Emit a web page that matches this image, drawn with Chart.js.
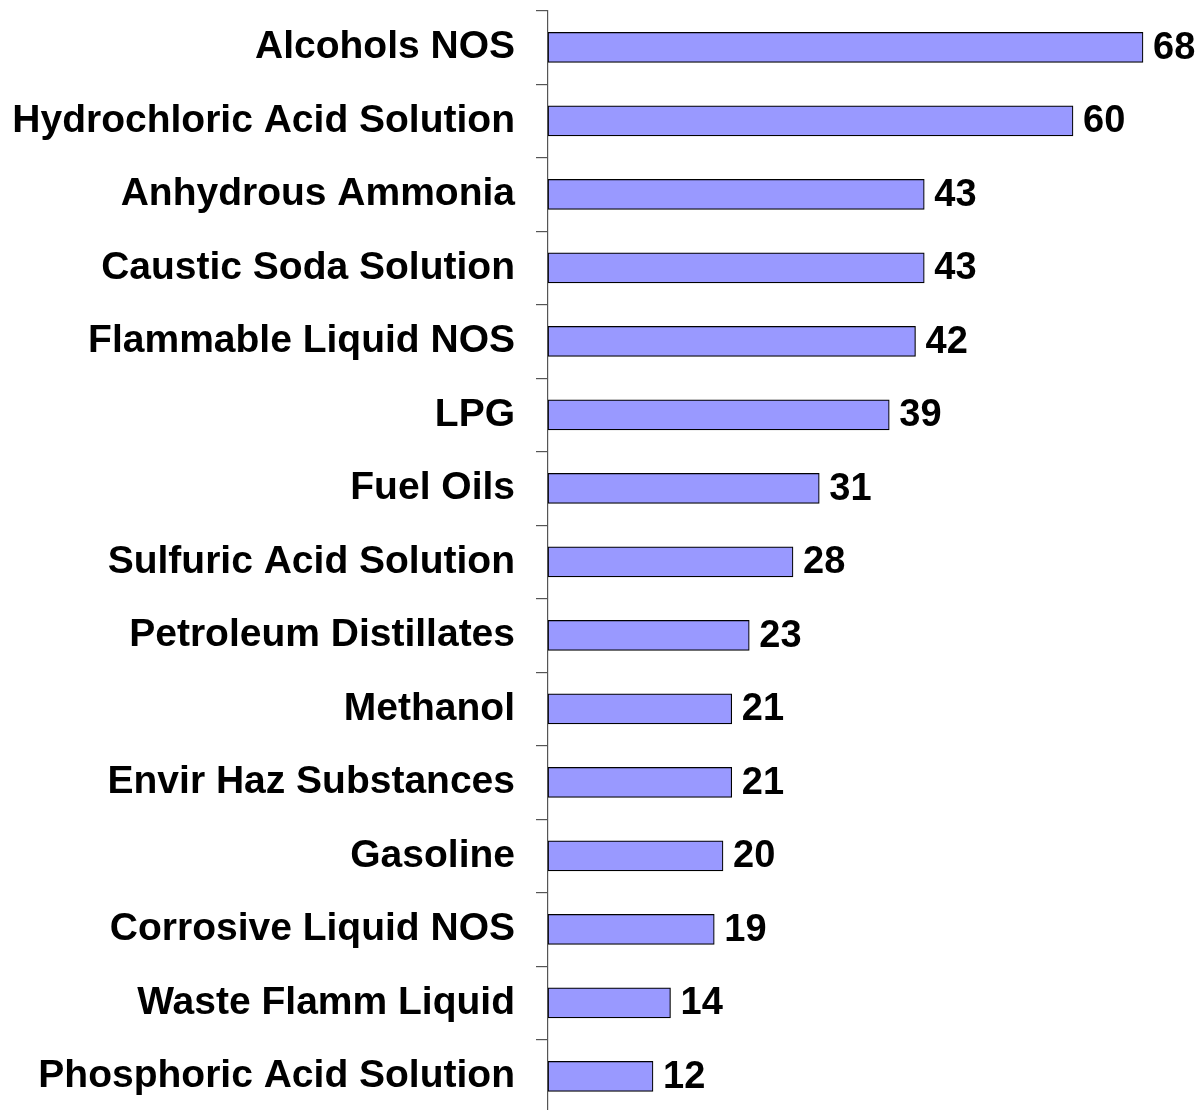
<!DOCTYPE html>
<html>
<head>
<meta charset="utf-8">
<script src="https://cdn.jsdelivr.net/npm/chart.js@4.4.0/dist/chart.umd.min.js"></script>
<style>
  html, body { margin: 0; padding: 0; background: #fff; overflow: hidden; }
  #wrap { position: relative; width: 1198px; height: 1120px; }
</style>
</head>
<body>
<div id="wrap"><canvas id="c"></canvas></div>
<script>
const categories = [
  "Alcohols NOS",
  "Hydrochloric Acid Solution",
  "Anhydrous Ammonia",
  "Caustic Soda Solution",
  "Flammable Liquid NOS",
  "LPG",
  "Fuel Oils",
  "Sulfuric Acid Solution",
  "Petroleum Distillates",
  "Methanol",
  "Envir Haz Substances",
  "Gasoline",
  "Corrosive Liquid NOS",
  "Waste Flamm Liquid",
  "Phosphoric Acid Solution"
];
const values = [68, 60, 43, 43, 42, 39, 31, 28, 23, 21, 21, 20, 19, 14, 12];
const xMin = 0;
const xMax = 74;

const FONT = "'Liberation Sans', Arial, sans-serif";

const valueLabels = {
  id: 'valueLabels',
  afterDatasetsDraw(chart) {
    const ctx = chart.ctx;
    const meta = chart.getDatasetMeta(0);
    ctx.save();
    ctx.font = "bold 38px " + FONT;
    ctx.fillStyle = '#000';
    ctx.textAlign = 'left';
    ctx.textBaseline = 'middle';
    meta.data.forEach((bar, i) => {
      ctx.fillText(String(values[i]), bar.x + 10, bar.y + 1);
    });
    ctx.restore();
  }
};

new Chart(document.getElementById('c'), {
  type: 'bar',
  data: {
    labels: categories,
    datasets: [{
      data: values,
      backgroundColor: '#9999FF',
      borderColor: '#000000',
      borderWidth: 1.2,
      borderSkipped: false,
      barThickness: 30
    }]
  },
  options: {
    indexAxis: 'y',
    responsive: true,
    maintainAspectRatio: false,
    animation: false,
    layout: { padding: { top: 10.7, right: 2.5, bottom: 6.8, left: 0 } },
    plugins: { legend: { display: false }, tooltip: { enabled: false } },
    scales: {
      x: { display: false, min: xMin, max: xMax },
      y: {
        offset: true,
        afterFit(scale) {
          scale.width = 548;
          scale.paddingTop = 0;
          scale.paddingBottom = 0;
        },
        border: { display: true, color: '#555555', width: 1.2 },
        grid: {
          offset: true,
          drawOnChartArea: false,
          drawTicks: true,
          tickLength: 12,
          color: '#555555',
          lineWidth: 1.2
        },
        ticks: {
          color: '#000000',
          padding: 21,
          autoSkip: false,
          font: { family: FONT, size: 39, weight: 'bold' }
        }
      }
    }
  },
  plugins: [valueLabels]
});
</script>
</body>
</html>
